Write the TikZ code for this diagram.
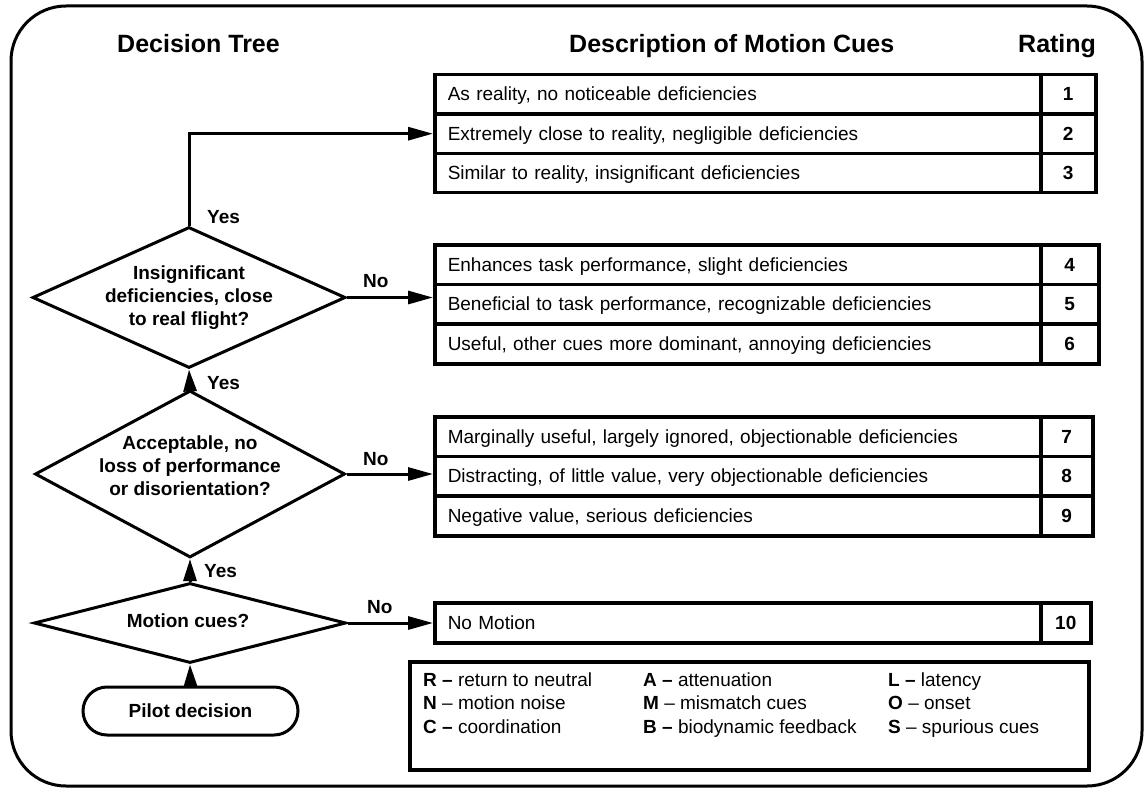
\documentclass[tikz,border=0pt]{standalone}
\usepackage{fontspec}
\setmainfont{Liberation Sans}
\usetikzlibrary{arrows.meta,shapes.geometric}
\begin{document}
\begin{tikzpicture}[x=1pt,y=-1pt,
  hdr/.style={font=\fontsize{25}{30}\selectfont\bfseries, anchor=base west, inner sep=0},
  lbl/.style={font=\fontsize{19}{23}\selectfont\bfseries, anchor=base west, inner sep=0},
  dtext/.style={font=\fontsize{19}{23}\selectfont\bfseries, align=center, inner sep=0},
  dia/.style={draw, diamond, line width=3pt, inner sep=0},
  arr/.style={line width=3pt, -{Triangle[length=25pt,width=13pt]}},
  varr/.style={line width=3pt, -{Triangle[length=22pt,width=13pt]}},
  cell/.style={draw, line width=3.5pt, inner sep=0, anchor=north west,
    font=\fontsize{19}{23}\selectfont, text height=13pt, text depth=0pt},
  desc/.style={cell, minimum width=606pt, text width=580pt, align=left},
  rate/.style={cell, font=\fontsize{19}{23}\selectfont\bfseries},
  leg/.style={font=\fontsize{19}{23}\selectfont, anchor=base west, inner sep=0}
]
\useasboundingbox (0,0) rectangle (1147,789);
% outer frame
\draw[line width=3pt, rounded corners=55pt] (11,6) rectangle (1142,786);

% headers
\node[hdr] (h1) at (117,53) {Decision Tree};
\node[hdr] (h2) at (569,53) {Description of Motion Cues};
\node[hdr] (h3) at (1018,53) {Rating};

% decision tree
\node[dia, minimum width=313pt, minimum height=141pt] (d1) at (189,297.5) {};
\node[dtext] (d1t) at (189,297.5) {Insignificant\\deficiencies, close\\to real flight?};
\node[dia, minimum width=310pt, minimum height=167pt] (d2) at (190,474) {};
\node[dtext] (d2t) at (190,466) {Acceptable, no\\loss of performance\\or disorientation?};
\node[dia, minimum width=312pt, minimum height=80pt] (d3) at (190,623) {};
\node[dtext] (d3t) at (188,621) {Motion cues?};
\node[draw, line width=3pt, rounded corners=24pt, minimum width=215pt, minimum height=48pt,
  inner sep=0, font=\fontsize{19}{23}\selectfont\bfseries] (pilot) at (190.5,711) {Pilot decision};

% box 1
\node[desc, minimum height=39.3pt] (b1r1) at (433,73) {As reality, no noticeable deficiencies};
\node[desc, minimum height=39.3pt] (b1r2) at (433,112.3) {Extremely close to reality, negligible deficiencies};
\node[desc, minimum height=39.3pt] (b1r3) at (433,151.6) {Similar to reality, insignificant deficiencies};
\node[rate, minimum height=39.3pt, minimum width=55pt] (n1) at (1039,73) {1};
\node[rate, minimum height=39.3pt, minimum width=55pt] (n2) at (1039,112.3) {2};
\node[rate, minimum height=39.3pt, minimum width=55pt] (n3) at (1039,151.6) {3};

% box 2
\node[desc, minimum height=39.7pt] (b2r1) at (433,243) {Enhances task performance, slight deficiencies};
\node[desc, minimum height=39.7pt] (b2r2) at (433,282.7) {Beneficial to task performance, recognizable deficiencies};
\node[desc, minimum height=39.7pt] (b2r3) at (433,322.4) {Useful, other cues more dominant, annoying deficiencies};
\node[rate, minimum height=39.7pt, minimum width=58pt] (n4) at (1039,243) {4};
\node[rate, minimum height=39.7pt, minimum width=58pt] (n5) at (1039,282.7) {5};
\node[rate, minimum height=39.7pt, minimum width=58pt] (n6) at (1039,322.4) {6};

% box 3
\node[desc, minimum height=39.7pt] (b3r1) at (433,415) {Marginally useful, largely ignored, objectionable deficiencies};
\node[desc, minimum height=39.7pt] (b3r2) at (433,454.7) {Distracting, of little value, very objectionable deficiencies};
\node[desc, minimum height=39.7pt] (b3r3) at (433,494.4) {Negative value, serious deficiencies};
\node[rate, minimum height=39.7pt, minimum width=52pt] (n7) at (1039,415) {7};
\node[rate, minimum height=39.7pt, minimum width=52pt] (n8) at (1039,454.7) {8};
\node[rate, minimum height=39.7pt, minimum width=52pt] (n9) at (1039,494.4) {9};

% box 4
\node[desc, minimum height=40pt] (b4r1) at (433,601) {No Motion};
\node[rate, minimum height=40pt, minimum width=50pt] (n10) at (1039,601) {10};

% legend
\node[draw, line width=3.5pt, anchor=north west, inner sep=0, minimum width=679pt, minimum height=108pt] (legend) at (408,660) {};
\node[leg] (lR) at (423,686) {\textbf{R –} return to neutral};
\node[leg] (lN) at (423,709.5) {\textbf{N} – motion noise};
\node[leg] (lC) at (423,733) {\textbf{C –} coordination};
\node[leg] (lA) at (643,686) {\textbf{A –} attenuation};
\node[leg] (lM) at (643,709.5) {\textbf{M} – mismatch cues};
\node[leg] (lB) at (643,733) {\textbf{B –} biodynamic feedback};
\node[leg] (lL) at (888,686) {\textbf{L –} latency};
\node[leg] (lO) at (888,709.5) {\textbf{O} – onset};
\node[leg] (lS) at (888,733) {\textbf{S} – spurious cues};

% connectors
\draw[varr] (pilot.north) -- (d3.south);
\draw[varr] (d3.north) -- (d2.south);
\draw[varr] (d2.north) -- (d1.south);
\draw[arr] (d1.north) |- (b1r2.west);
\draw[arr] (d1.east) -- (d1.east -| b2r2.west);
\draw[arr] (d2.east) -- (d2.east -| b3r2.west);
\draw[arr] (d3.east) -- (d3.east -| b4r1.west);

% labels
\node[lbl] (y1) at (207,223) {Yes};
\node[lbl] (y2) at (207,389) {Yes};
\node[lbl] (y3) at (204,577) {Yes};
\node[lbl] (no1) at (363,287) {No};
\node[lbl] (no2) at (363,465) {No};
\node[lbl] (no3) at (367,613) {No};
\end{tikzpicture}
\end{document}
